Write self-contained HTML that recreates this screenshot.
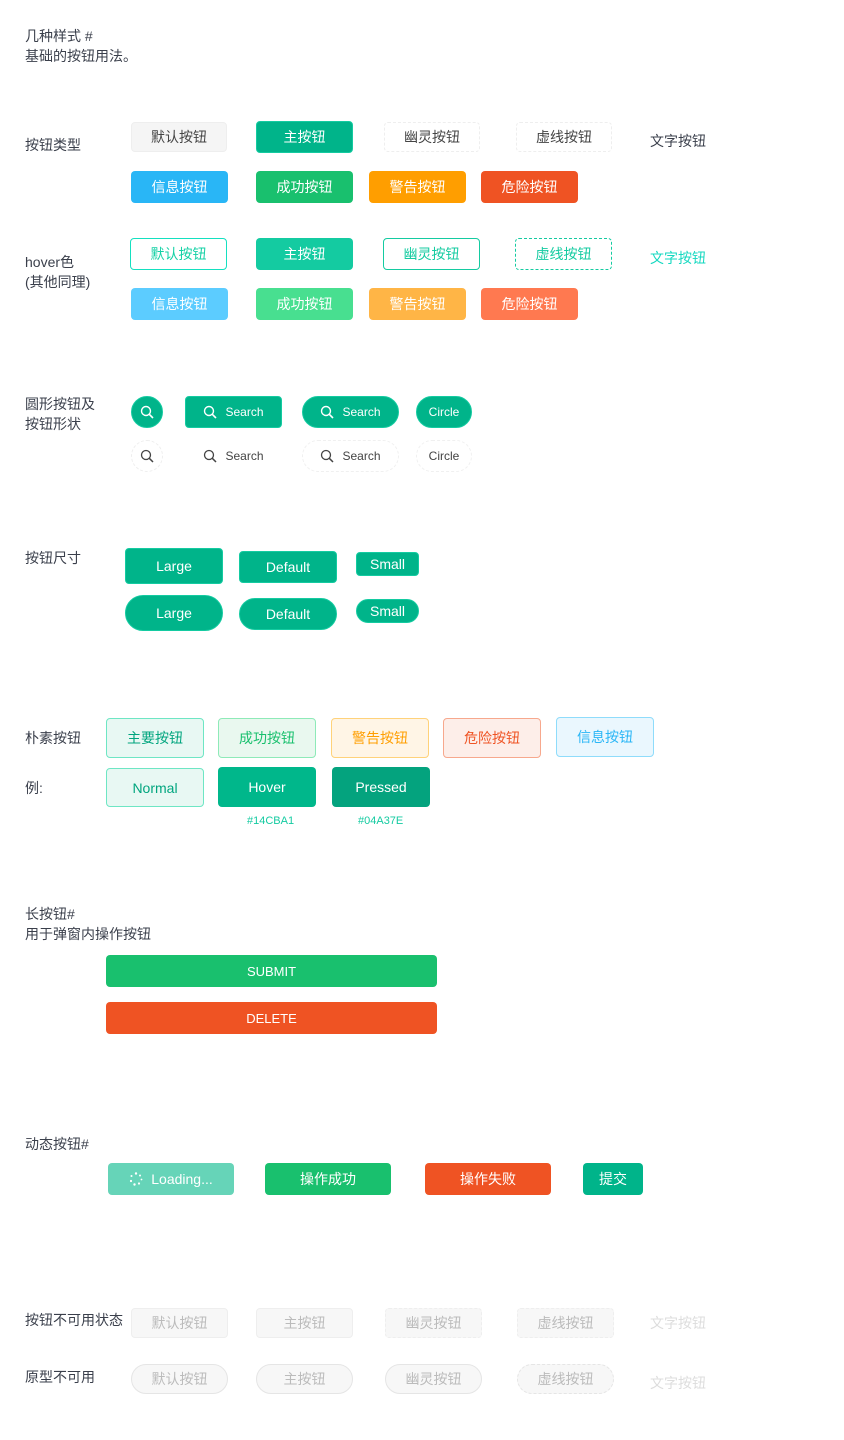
<!DOCTYPE html>
<html><head><meta charset="utf-8"><style>
body{margin:0;width:844px;height:1440px;background:#fff;position:relative;font-family:"Liberation Sans","Noto Sans CJK SC",sans-serif;overflow:hidden}
.t{position:absolute;font-size:14px;color:#3a3f4b;line-height:20px;white-space:nowrap}
.b{position:absolute;display:flex;align-items:center;justify-content:center;font-size:14px;color:#fff;box-sizing:border-box;border-radius:4px;white-space:nowrap}
.p{background:#00b48a;border:1px solid #14cba1}
.r{border-radius:20px}
svg{margin-right:8px}
</style></head><body>
<div class="t" style="left:25px;top:26px">几种样式 #</div>
<div class="t" style="left:25px;top:46px">基础的按钮用法。</div>

<div class="t" style="left:25px;top:135px">按钮类型</div>
<div class="b" style="left:131px;top:122px;width:96px;height:30px;background:#f5f5f5;border:1px solid #eee;color:#444">默认按钮</div>
<div class="b p" style="left:256px;top:121px;width:97px;height:32px">主按钮</div>
<div class="b" style="left:384px;top:122px;width:96px;height:30px;border:1px dashed #eee;color:#444">幽灵按钮</div>
<div class="b" style="left:516px;top:122px;width:96px;height:30px;border:1px dashed #eee;color:#444">虚线按钮</div>
<div class="t" style="left:650px;top:131px">文字按钮</div>
<div class="b" style="left:131px;top:171px;width:97px;height:32px;background:#29b6f6">信息按钮</div>
<div class="b" style="left:256px;top:171px;width:97px;height:32px;background:#19c06e">成功按钮</div>
<div class="b" style="left:369px;top:171px;width:97px;height:32px;background:#ff9e00">警告按钮</div>
<div class="b" style="left:481px;top:171px;width:97px;height:32px;background:#ef5323">危险按钮</div>

<div class="t" style="left:25px;top:252px">hover色</div>
<div class="t" style="left:25px;top:272px">(其他同理)</div>
<div class="b" style="left:130px;top:238px;width:97px;height:32px;border:1px solid #14e0c0;color:#14d1a6">默认按钮</div>
<div class="b" style="left:256px;top:238px;width:97px;height:32px;background:#14cba1">主按钮</div>
<div class="b" style="left:383px;top:238px;width:97px;height:32px;border:1px solid #14cba1;color:#14cba1">幽灵按钮</div>
<div class="b" style="left:515px;top:238px;width:97px;height:32px;border:1px dashed #14cba1;color:#14cba1">虚线按钮</div>
<div class="t" style="left:650px;top:248px;color:#14d8c0">文字按钮</div>
<div class="b" style="left:131px;top:288px;width:97px;height:32px;background:#5cccff">信息按钮</div>
<div class="b" style="left:256px;top:288px;width:97px;height:32px;background:#48df90">成功按钮</div>
<div class="b" style="left:369px;top:288px;width:97px;height:32px;background:#ffb546">警告按钮</div>
<div class="b" style="left:481px;top:288px;width:97px;height:32px;background:#ff7950">危险按钮</div>

<div class="t" style="left:25px;top:394px">圆形按钮及</div>
<div class="t" style="left:25px;top:414px">按钮形状</div>
<div class="b p" style="left:131px;top:396px;width:32px;height:32px;border-radius:50%"><svg width="14" height="14" viewBox="0 0 14 14" style="margin:0"><circle cx="6" cy="6" r="4.5" fill="none" stroke="#fff" stroke-width="1.4"/><line x1="9.3" y1="9.3" x2="13" y2="13" stroke="#fff" stroke-width="1.6"/></svg></div>
<div class="b p" style="left:185px;top:396px;width:97px;height:32px;font-size:12px"><svg width="14" height="14" viewBox="0 0 14 14"><circle cx="6" cy="6" r="4.5" fill="none" stroke="#fff" stroke-width="1.4"/><line x1="9.3" y1="9.3" x2="13" y2="13" stroke="#fff" stroke-width="1.6"/></svg>Search</div>
<div class="b p r" style="left:302px;top:396px;width:97px;height:32px;font-size:12px"><svg width="14" height="14" viewBox="0 0 14 14"><circle cx="6" cy="6" r="4.5" fill="none" stroke="#fff" stroke-width="1.4"/><line x1="9.3" y1="9.3" x2="13" y2="13" stroke="#fff" stroke-width="1.6"/></svg>Search</div>
<div class="b p r" style="left:416px;top:396px;width:56px;height:32px;font-size:12px">Circle</div>
<div class="b" style="left:131px;top:440px;width:32px;height:32px;border-radius:50%;border:1px dashed #eee"><svg width="14" height="14" viewBox="0 0 14 14" style="margin:0"><circle cx="6" cy="6" r="4.5" fill="none" stroke="#444" stroke-width="1.3"/><line x1="9.3" y1="9.3" x2="13" y2="13" stroke="#444" stroke-width="1.5"/></svg></div>
<div class="b" style="left:185px;top:440px;width:97px;height:32px;font-size:12px;color:#444"><svg width="14" height="14" viewBox="0 0 14 14"><circle cx="6" cy="6" r="4.5" fill="none" stroke="#444" stroke-width="1.3"/><line x1="9.3" y1="9.3" x2="13" y2="13" stroke="#444" stroke-width="1.5"/></svg>Search</div>
<div class="b r" style="left:302px;top:440px;width:97px;height:32px;font-size:12px;color:#444;border:1px dashed #f0f0f0"><svg width="14" height="14" viewBox="0 0 14 14"><circle cx="6" cy="6" r="4.5" fill="none" stroke="#444" stroke-width="1.3"/><line x1="9.3" y1="9.3" x2="13" y2="13" stroke="#444" stroke-width="1.5"/></svg>Search</div>
<div class="b r" style="left:416px;top:440px;width:56px;height:32px;font-size:12px;color:#444;border:1px dashed #f0f0f0">Circle</div>

<div class="t" style="left:25px;top:548px">按钮尺寸</div>
<div class="b p" style="left:125px;top:548px;width:98px;height:36px;font-size:14px">Large</div>
<div class="b p" style="left:239px;top:551px;width:98px;height:32px;font-size:14px">Default</div>
<div class="b p" style="left:356px;top:552px;width:63px;height:24px;font-size:14px">Small</div>
<div class="b p r" style="left:125px;top:595px;width:98px;height:36px;font-size:14px">Large</div>
<div class="b p r" style="left:239px;top:598px;width:98px;height:32px;font-size:14px">Default</div>
<div class="b p r" style="left:356px;top:599px;width:63px;height:24px;font-size:14px">Small</div>

<div class="t" style="left:25px;top:728px">朴素按钮</div>
<div class="t" style="left:25px;top:778px">例:</div>
<div class="b" style="left:106px;top:718px;width:98px;height:40px;background:#e8f8f3;border:1px solid #6ee6c4;color:#00a57e">主要按钮</div>
<div class="b" style="left:218px;top:718px;width:98px;height:40px;background:#e9f8ef;border:1px solid #8eeab8;color:#19c06e">成功按钮</div>
<div class="b" style="left:331px;top:718px;width:98px;height:40px;background:#fff5e6;border:1px solid #ffd27a;color:#ff9e00">警告按钮</div>
<div class="b" style="left:443px;top:718px;width:98px;height:40px;background:#fdeee9;border:1px solid #f7a88d;color:#ef5323">危险按钮</div>
<div class="b" style="left:556px;top:717px;width:98px;height:40px;background:#eaf7fe;border:1px solid #8fdcfb;color:#29b6f6">信息按钮</div>
<div class="b" style="left:106px;top:768px;width:98px;height:39px;background:#e8f8f3;border:1px solid #6ee6c4;color:#00a57e">Normal</div>
<div class="b" style="left:218px;top:767px;width:98px;height:40px;background:#00b78b">Hover</div>
<div class="b" style="left:332px;top:767px;width:98px;height:40px;background:#04a37e">Pressed</div>
<div class="t" style="left:247px;top:811px;font-size:11px;color:#14cba1">#14CBA1</div>
<div class="t" style="left:358px;top:811px;font-size:11px;color:#14cba1">#04A37E</div>

<div class="t" style="left:25px;top:904px">长按钮#</div>
<div class="t" style="left:25px;top:924px">用于弹窗内操作按钮</div>
<div class="b" style="left:106px;top:955px;width:331px;height:32px;background:#19c06e;font-size:13px">SUBMIT</div>
<div class="b" style="left:106px;top:1002px;width:331px;height:32px;background:#ef5323;font-size:13px">DELETE</div>

<div class="t" style="left:25px;top:1134px">动态按钮#</div>
<div class="b" style="left:108px;top:1163px;width:126px;height:32px;background:#66d4b8"><svg width="14" height="14" viewBox="0 0 14 14"><g fill="#fff"><circle cx="7" cy="1.5" r="1.2"/><circle cx="11" cy="3.5" r="1"/><circle cx="12.5" cy="7.5" r="0.9"/><circle cx="10" cy="11.5" r="1.1"/><circle cx="5.5" cy="12.5" r="1.2"/><circle cx="2" cy="9" r="1.1"/><circle cx="2.5" cy="4" r="1"/></g></svg>Loading...</div>
<div class="b" style="left:265px;top:1163px;width:126px;height:32px;background:#19c06e">操作成功</div>
<div class="b" style="left:425px;top:1163px;width:126px;height:32px;background:#ef5323">操作失败</div>
<div class="b" style="left:583px;top:1163px;width:60px;height:32px;background:#00b48a">提交</div>

<div class="t" style="left:25px;top:1310px">按钮不可用状态</div>
<div class="t" style="left:25px;top:1367px">原型不可用</div>
<div class="b" style="left:131px;top:1308px;width:97px;height:30px;background:#f7f7f7;border:1px solid #eee;color:#bbb">默认按钮</div>
<div class="b" style="left:256px;top:1308px;width:97px;height:30px;background:#f7f7f7;border:1px solid #eee;color:#bbb">主按钮</div>
<div class="b" style="left:385px;top:1308px;width:97px;height:30px;background:#f7f7f7;border:1px dashed #eee;color:#bbb">幽灵按钮</div>
<div class="b" style="left:517px;top:1308px;width:97px;height:30px;background:#f7f7f7;border:1px dashed #eee;color:#bbb">虚线按钮</div>
<div class="t" style="left:650px;top:1313px;color:#ddd">文字按钮</div>
<div class="b r" style="left:131px;top:1364px;width:97px;height:30px;background:#f7f7f7;border:1px solid #e5e5e5;color:#bbb">默认按钮</div>
<div class="b r" style="left:256px;top:1364px;width:97px;height:30px;background:#f7f7f7;border:1px solid #e5e5e5;color:#bbb">主按钮</div>
<div class="b r" style="left:385px;top:1364px;width:97px;height:30px;background:#f7f7f7;border:1px solid #e5e5e5;color:#bbb">幽灵按钮</div>
<div class="b r" style="left:517px;top:1364px;width:97px;height:30px;background:#f7f7f7;border:1px dashed #e5e5e5;color:#bbb">虚线按钮</div>
<div class="t" style="left:650px;top:1373px;color:#ddd">文字按钮</div>
</body></html>
